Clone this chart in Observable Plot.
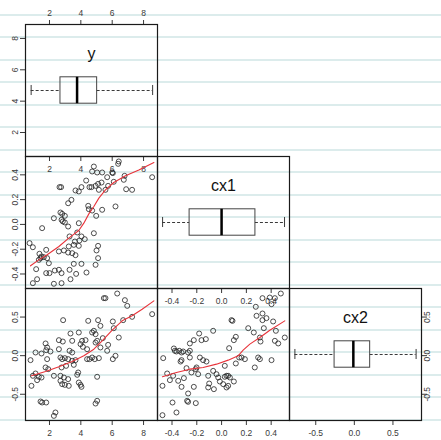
<!DOCTYPE html>
<html><head><meta charset="utf-8">
<script src="https://cdn.jsdelivr.net/npm/d3@7"></script>
<script src="https://cdn.jsdelivr.net/npm/@observablehq/plot@0.6"></script>
<style>
html,body{margin:0;padding:0;background:#fff;}
#chart{position:relative;width:441px;height:440px;overflow:hidden;
 background:repeating-linear-gradient(to bottom, rgba(0,0,0,0) 0px, rgba(0,0,0,0) 14px, #dcecec 14px, #dcecec 16px, rgba(0,0,0,0) 16px, rgba(0,0,0,0) 22.5px);}
#chart svg{position:absolute;overflow:visible;background:transparent;}
</style></head>
<body><div id="chart"></div>
<script>
// ---- variable names & tick labels ----
const varNames = ["y", "cx1", "cx2"];
const yTicks = [2, 4, 6, 8];
const cx1Ticks = [-0.4, -0.2, 0.0, 0.2, 0.4];
const cx2Ticks = [-0.5, 0.0, 0.5];
const yDomain = [0.47, 8.89];
const cx1Domain = [-0.517, 0.548];
const cx2Domain = [-0.84, 0.87];

// ---- boxplot stats: [lower whisker, Q1, median, Q3, upper whisker] ----
const yBox = [0.83, 2.70, 3.76, 5.04, 8.58];
const cx1Box = [-0.476, -0.258, 0.0, 0.273, 0.508];
const cx2Box = [-0.77, -0.256, -0.013, 0.205, 0.80];

// ---- panel: y (x) vs cx1 (y) ----
const s21x = [6.42,6.38,4.83,4.72,5.04,5.36,6.00,6.04,6.79,6.74,8.55,5.68,4.34,6.10,5.32,5.10,4.94,4.68,4.55,4.04,5.74,5.57,2.64,2.74,3.66,3.87,5.15,6.89,7.27,3.40,3.19,4.47,4.51,4.72,5.36,6.21,2.70,2.81,2.98,2.77,2.85,2.98,2.28,4.98,3.19,3.87,1.53,4.83,3.77,4.04,4.25,3.91,3.62,3.28,0.73,0.94,5.10,5.00,3.23,3.55,3.87,1.79,1.36,1.49,1.64,1.43,1.85,2.60,2.92,3.19,3.45,3.66,5.10,4.94,1.96,1.15,2.00,1.79,2.34,2.60,2.77,3.28,3.55,4.04,3.70,4.36,0.94,1.21,2.28,2.77,3.34,1.32];
const s21y = [0.508,0.489,0.467,0.427,0.419,0.419,0.419,0.414,0.392,0.360,0.381,0.381,0.354,0.344,0.338,0.327,0.311,0.301,0.301,0.301,0.311,0.279,0.301,0.301,0.274,0.266,0.279,0.284,0.279,0.198,0.171,0.150,0.123,0.112,0.118,0.145,0.096,0.085,0.069,0.037,0.024,0.016,0.050,0.069,-0.017,0.010,-0.030,-0.071,-0.065,-0.097,-0.119,-0.130,-0.138,-0.097,-0.151,-0.184,-0.173,-0.210,-0.178,-0.165,-0.173,-0.205,-0.237,-0.259,-0.264,-0.272,-0.272,-0.218,-0.210,-0.227,-0.232,-0.248,-0.272,-0.326,-0.313,-0.361,-0.393,-0.393,-0.372,-0.366,-0.393,-0.366,-0.318,-0.318,-0.399,-0.388,-0.474,-0.442,-0.479,-0.474,-0.442,-0.286];
const l21x = [0.79,1.32,1.85,2.60,3.23,3.87,4.19,4.51,4.83,5.15,5.57,6.10,6.85,7.70,8.66];
const l21y = [-0.334,-0.286,-0.245,-0.178,-0.111,-0.049,0.010,0.085,0.145,0.212,0.279,0.338,0.392,0.440,0.500];

// ---- panel: y (x) vs cx2 (y) ----
const s31x = [6.32,6.81,5.47,5.57,6.96,8.55,7.27,6.70,6.04,2.87,4.47,5.10,5.25,4.83,4.72,4.94,6.10,3.87,3.34,6.42,5.40,5.04,4.94,2.60,2.85,3.45,4.30,4.08,3.98,4.13,5.74,5.25,1.75,1.85,1.79,2.06,1.11,1.49,2.60,3.28,3.45,4.40,5.68,6.21,6.04,0.79,1.85,2.70,2.81,2.98,3.19,3.45,3.66,4.40,4.55,4.72,4.89,5.15,3.06,2.77,3.55,1.75,1.92,1.11,0.94,1.32,1.49,1.21,2.28,2.70,2.92,3.19,3.77,3.83,5.04,0.85,2.70,2.81,2.98,3.23,3.87,3.98,4.04,1.43,1.53,1.79,4.94,5.04,2.38,2.28];
const s31y = [0.805,0.719,0.745,0.745,0.645,0.538,0.503,0.460,0.443,0.460,0.451,0.460,0.386,0.322,0.300,0.278,0.356,0.300,0.287,0.235,0.227,0.192,0.170,0.201,0.183,0.192,0.201,0.192,0.149,0.114,0.140,0.106,0.158,0.106,0.071,0.054,0.041,0.028,0.084,0.063,0.041,0.084,0.063,-0.002,-0.045,-0.058,-0.045,-0.024,-0.045,-0.032,-0.045,-0.067,-0.058,-0.045,-0.045,-0.024,-0.045,-0.032,-0.132,-0.153,-0.119,-0.153,-0.175,-0.231,-0.261,-0.274,-0.283,-0.317,-0.261,-0.261,-0.283,-0.304,-0.248,-0.218,-0.274,-0.391,-0.326,-0.369,-0.378,-0.391,-0.348,-0.378,-0.404,-0.594,-0.607,-0.607,-0.620,-0.585,-0.736,-0.780];
const l31x = [0.85,1.75,2.60,3.45,4.19,4.83,5.36,6.00,6.64,7.27,7.91,8.66];
const l31y = [-0.261,-0.205,-0.145,-0.076,-0.002,0.084,0.192,0.330,0.451,0.516,0.602,0.710];

// ---- panel: cx1 (x) vs cx2 (y) ----
const s32x = [0.478,0.330,0.389,0.430,0.403,0.276,0.330,0.362,0.330,0.416,0.080,0.088,0.282,0.215,0.260,0.341,-0.068,-0.181,-0.127,-0.162,-0.224,-0.256,0.115,0.099,0.438,0.430,0.510,0.457,0.309,0.314,0.061,-0.256,-0.270,-0.385,-0.377,-0.364,-0.342,-0.323,-0.310,-0.256,-0.175,-0.149,-0.122,0.142,0.161,0.188,0.295,0.309,0.403,-0.471,-0.323,-0.331,-0.202,-0.208,-0.283,0.026,0.115,0.268,-0.439,-0.391,-0.243,-0.189,-0.108,-0.041,-0.068,0.026,0.040,0.053,0.067,0.099,-0.417,-0.350,-0.304,-0.100,-0.108,-0.027,-0.014,0.013,0.040,0.053,-0.323,-0.224,-0.477,-0.270,-0.062,-0.396,-0.278,-0.270,-0.208,-0.364,-0.477];
const s32y = [0.805,0.745,0.753,0.745,0.667,0.633,0.546,0.486,0.460,0.443,0.460,0.451,0.516,0.356,0.300,0.356,0.322,0.287,0.214,0.201,0.201,0.158,0.244,0.201,0.322,0.192,0.235,0.158,0.235,0.183,0.097,0.063,0.041,0.093,0.063,0.054,0.063,0.041,0.054,-0.024,-0.024,-0.058,-0.076,-0.024,-0.024,-0.045,-0.024,-0.045,-0.058,-0.032,-0.058,-0.076,-0.153,-0.175,-0.162,-0.132,-0.101,-0.153,-0.231,-0.261,-0.218,-0.240,-0.261,-0.240,-0.197,-0.274,-0.261,-0.261,-0.283,-0.335,-0.317,-0.326,-0.291,-0.361,-0.412,-0.283,-0.335,-0.369,-0.412,-0.391,-0.404,-0.404,-0.391,-0.490,-0.434,-0.607,-0.585,-0.598,-0.615,-0.736,-0.771];
const l32x = [-0.477,-0.364,-0.256,-0.149,-0.041,0.053,0.134,0.174,0.228,0.309,0.389,0.510];
const l32y = [-0.274,-0.218,-0.175,-0.153,-0.110,-0.058,-0.002,0.071,0.149,0.235,0.330,0.451];

// ---- layout ----
const chart = document.getElementById("chart");
const M = 30, S = 132;
const colX = [25, 157, 289], rowY = [24, 156, 288];
const ink = "#3a3a3a";
const font = "'Liberation Sans', Arial, Helvetica, sans-serif";
const fmt1 = d => d.toFixed(1);
const fmt0 = d => String(d);

function axX(anchor, ticks, f) {
  return Plot.axisX({anchor, ticks, tickFormat: f, tickSize: 5, tickPadding: 4, fontSize: 8.5, color: ink});
}
function axY(anchor, ticks, f) {
  return Plot.axisY({anchor, ticks, tickFormat: f, tickSize: 5, tickPadding: 3, tickRotate: -90, fontSize: 8.5, color: ink});
}
function dots(xs, ys) {
  return Plot.dot(d3.range(xs.length), {x: i => xs[i], y: i => ys[i], r: 2.5, stroke: "#222", strokeWidth: 0.8, fill: "none"});
}
function smooth(xs, ys) {
  return Plot.line(d3.range(xs.length), {x: i => xs[i], y: i => ys[i], stroke: "#e8333a", strokeWidth: 1.1});
}
function box(b, dom, label) {
  const f = t => dom[1] - t * (dom[1] - dom[0]);
  const ws = {stroke: ink, strokeWidth: 1};
  return [
    Plot.ruleY([f(0.5)], {x1: b[0], x2: b[1], ...ws, strokeDasharray: "3,2"}),
    Plot.ruleY([f(0.5)], {x1: b[3], x2: b[4], ...ws, strokeDasharray: "3,2"}),
    Plot.ruleX([b[0], b[4]], {y1: f(0.462), y2: f(0.538), ...ws}),
    Plot.rect([b], {x1: d => d[1], x2: d => d[3], y1: f(0.4), y2: f(0.6), fill: "none", stroke: "#444", strokeWidth: 1}),
    Plot.ruleX([b[2]], {y1: f(0.4), y2: f(0.6), stroke: "#000", strokeWidth: 2.5}),
    Plot.text([label], {text: d => d, frameAnchor: "top", dy: 23, fontSize: 16, fill: "#111"})
  ];
}
function panel(col, row, xDom, yDom, marks) {
  const svg = Plot.plot({
    width: S + 2 * M, height: S + 2 * M, margin: M,
    x: {domain: xDom, axis: null}, y: {domain: yDom, axis: null},
    style: {background: "transparent", fontFamily: font, overflow: "visible"},
    marks: [...marks, Plot.frame({stroke: "#1a1a1a", strokeWidth: 1.2})]
  });
  svg.style.left = (colX[col] - M) + "px";
  svg.style.top = (rowY[row] - M) + "px";
  chart.append(svg);
}

// row 1
panel(0, 0, yDomain, yDomain, [
  ...box(yBox, yDomain, varNames[0]),
  axX("top", yTicks, fmt0), axX("bottom", yTicks, fmt0), axY("left", yTicks, fmt0)
]);
// row 2
panel(0, 1, yDomain, cx1Domain, [
  dots(s21x, s21y), smooth(l21x, l21y), axY("left", cx1Ticks, fmt1)
]);
panel(1, 1, cx1Domain, [0, 1], [
  ...box(cx1Box, [0, 1], varNames[1]), axX("bottom", cx1Ticks, fmt1)
]);
// row 3
panel(0, 2, yDomain, cx2Domain, [
  dots(s31x, s31y), smooth(l31x, l31y), axY("left", cx2Ticks, fmt1), axX("bottom", yTicks, fmt0)
]);
panel(1, 2, cx1Domain, cx2Domain, [
  dots(s32x, s32y), smooth(l32x, l32y), axX("bottom", cx1Ticks, fmt1)
]);
panel(2, 2, cx2Domain, cx2Domain, [
  ...box(cx2Box, cx2Domain, varNames[2]), axX("bottom", cx2Ticks, fmt1), axY("right", cx2Ticks, fmt1)
]);
</script></body></html>
